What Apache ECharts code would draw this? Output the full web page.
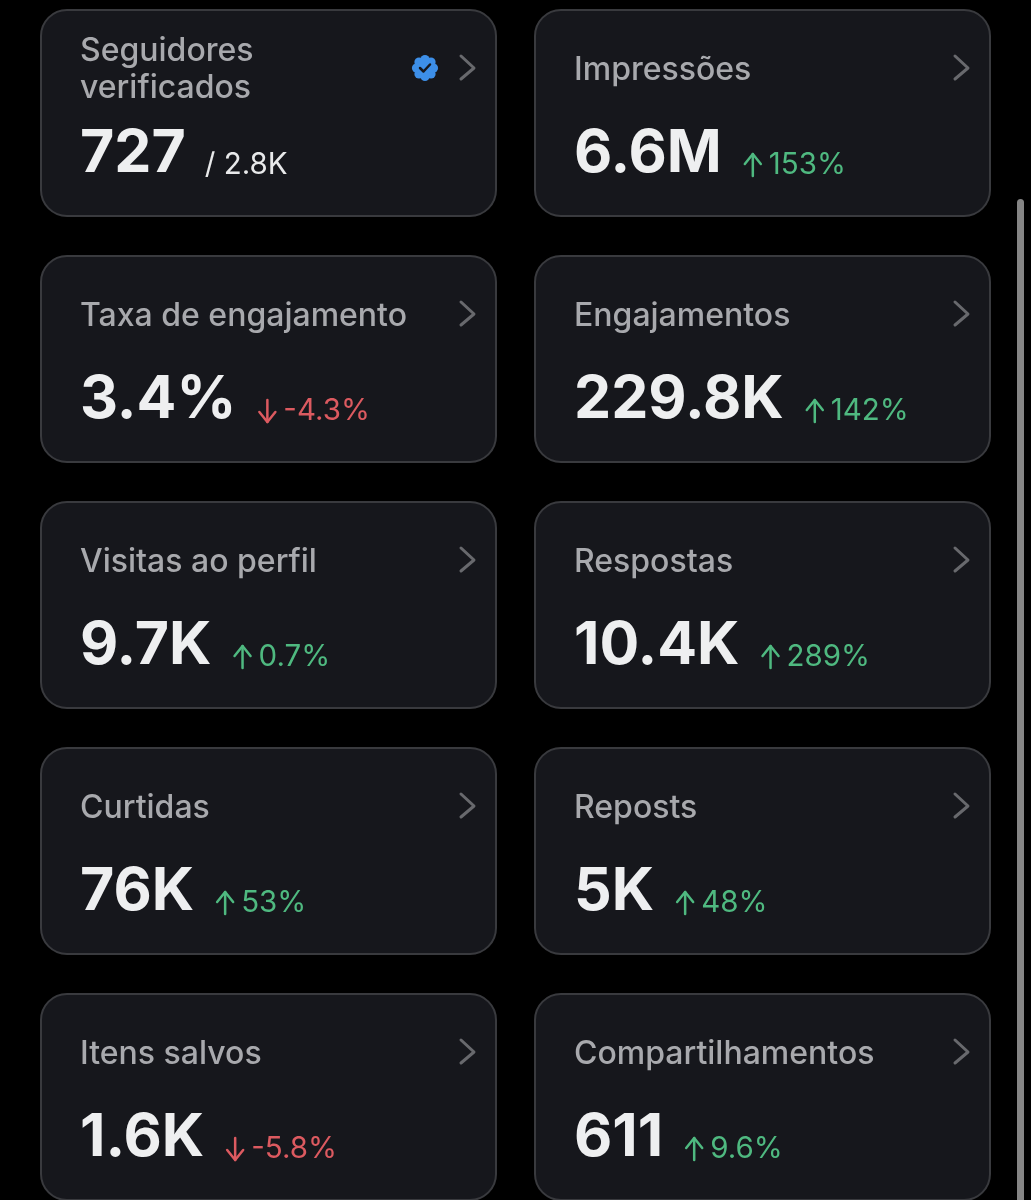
<!DOCTYPE html>
<html>
<head>
<meta charset="utf-8">
<style>
html, body { margin: 0; padding: 0; background: #000; }
#main { width: 1031px; height: 1200px; }
</style>
<script src="https://cdn.jsdelivr.net/npm/echarts@6/dist/echarts.min.js"></script>
</head>
<body>
<div id="main"></div>
<script>
var titles = ['Seguidores\nverificados', 'Impressões', 'Taxa de engajamento', 'Engajamentos', 'Visitas ao perfil', 'Respostas', 'Curtidas', 'Reposts', 'Itens salvos', 'Compartilhamentos'];
var values = ['727', '6.6M', '3.4%', '229.8K', '9.7K', '10.4K', '76K', '5K', '1.6K', '611'];
var changes = [null, '153%', '-4.3%', '142%', '0.7%', '289%', '53%', '48%', '-5.8%', '9.6%'];
var verifiedTotal = '/ 2.8K';

var valueFont = 'bold 59px Inter';
var titleFont = '500 32px Inter';
var changeFont = '29.5px Inter';
var green = '#4fb980';
var red = '#dc5a60';

var ctx = document.createElement('canvas').getContext('2d');
function textWidth(text, font) {
    ctx.font = font;
    return ctx.measureText(text).width;
}

function line(points, color, width) {
    return {
        type: 'polyline',
        shape: { points: points },
        style: { stroke: color, lineWidth: width, fill: null, lineCap: 'round', lineJoin: 'round' }
    };
}

// zrender has no alphabetic baseline, so go through "middle" and shift by font size
function label(text, x, baseline, font, size, color) {
    return {
        type: 'text',
        x: x,
        y: baseline - size * 0.36,
        style: { text: text, font: font, fill: color, verticalAlign: 'middle' }
    };
}

function drawCard(items, i) {
    var left = i % 2 === 0 ? 41 : 535;
    var top = 10 + Math.floor(i / 2) * 246;
    var textX = left + 39;
    var baseline = top + 166;

    items.push({
        type: 'rect',
        shape: { x: left, y: top, width: 455, height: 206, r: 26 },
        style: { fill: '#16171c', stroke: '#393a3e', lineWidth: 2 }
    });

    var lines = titles[i].split('\n');
    var titleY = lines.length > 1 ? top + 53 : top + 72;
    lines.forEach(function (t, n) {
        items.push(label(t, textX, titleY + n * 37, titleFont, 32, '#a8a9ad'));
    });

    var chevronX = left + 420;
    items.push(line([[chevronX, top + 46], [chevronX + 13, top + 58], [chevronX, top + 69]], '#68696d', 3));

    items.push(label(values[i], textX, baseline, valueFont, 59, '#eeeff0'));
    var nextX = textX + textWidth(values[i], valueFont) + 22;

    if (changes[i] === null) {
        items.push(label(verifiedTotal, nextX - 3, baseline, changeFont, 29.5, '#e8e9ea'));
        drawBadge(items, left + 384, top + 58);
        return;
    }

    var down = changes[i].charAt(0) === '-';
    var color = down ? red : green;
    var ax = nextX + 9;
    var tipY = down ? baseline : baseline - 22;
    var tailY = down ? baseline - 22 : baseline;
    var wing = down ? tipY - 10 : tipY + 10;
    items.push(line([[ax, tailY], [ax, tipY]], color, 2.5));
    items.push(line([[ax - 8, wing], [ax, tipY], [ax + 8, wing]], color, 2.5));
    items.push(label(changes[i], nextX + 25, baseline, changeFont, 29.5, color));
}

function drawBadge(items, cx, cy) {
    var n;
    for (n = 0; n < 8; n++) {
        var a = n * Math.PI / 4;
        items.push({
            type: 'circle',
            shape: { cx: cx + Math.cos(a) * 8.5, cy: cy + Math.sin(a) * 8.5, r: 4.6 },
            style: { fill: '#3d8fe8' }
        });
    }
    items.push({ type: 'circle', shape: { cx: cx, cy: cy, r: 10 }, style: { fill: '#3d8fe8' } });
    items.push(line([[cx - 5, cy], [cx - 1.5, cy + 3.5], [cx + 5, cy - 3.5]], '#16171c', 2.5));
}

var myChart = echarts.init(document.getElementById('main'), null, { renderer: 'canvas' });
var elements = [];
titles.forEach(function (t, i) {
    drawCard(elements, i);
});
// scrollbar on the right edge
elements.push({
    type: 'rect',
    shape: { x: 1017, y: 199, width: 7, height: 1010, r: 3.5 },
    style: { fill: '#858585' }
});

var option = {
    backgroundColor: '#000000',
    animation: false,
    graphic: { elements: elements }
};
myChart.setOption(option);
</script>
</body>
</html>
